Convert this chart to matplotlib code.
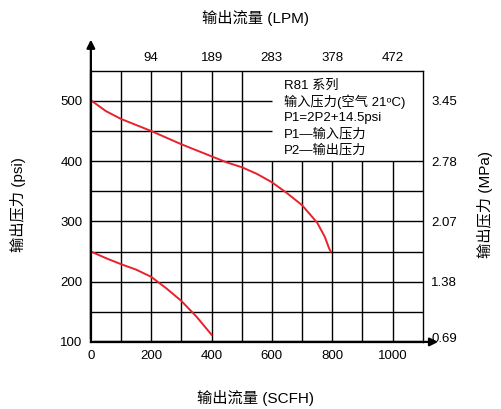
import matplotlib
matplotlib.use("Agg")
import matplotlib.pyplot as plt
import numpy as np

plt.rcParams['font.family'] = ['Liberation Sans', 'Noto Sans CJK SC', 'DejaVu Sans']

# --- data ---
high_flow = [0, 50, 100, 150, 200, 250, 300, 350, 400, 450, 500, 550, 600,
             650, 700, 750, 775, 790, 795]
high_psi = [501, 483, 470, 460, 450, 439, 428, 418, 408, 398, 390, 379, 365,
            347, 327, 298, 275, 255, 250]
low_flow = [0, 50, 100, 150, 200, 250, 300, 350, 400]
low_psi = [250, 239, 229, 220, 208, 189, 168, 142, 112]

psi_ticks = [100, 200, 300, 400, 500]
mpa_labels = ['0.69', '1.38', '2.07', '2.78', '3.45']
scfh_ticks = [0, 200, 400, 600, 800, 1000]
lpm_labels = ['94', '189', '283', '378', '472']

note_lines = ['R81 系列', '输入压力(空气 21ᵒC)', 'P1=2P2+14.5psi', 'P1—输入压力', 'P2—输出压力']

fig = plt.figure(figsize=(5.02, 4.09), dpi=100)
ax = fig.add_axes([0.181, 0.164, 0.661, 0.663])
ax.set_xlim(0, 1100)
ax.set_ylim(100, 550)

# grid, leaving the note box (x>=600, y>=400) empty
for xv in range(100, 1100, 100):
    top = 400 if xv >= 600 else 550
    ax.vlines(xv, 100, top, color='black', lw=1.0)
for yv in range(150, 550, 50):
    right = 600 if yv > 400 else 1100
    ax.hlines(yv, 0, right, color='black', lw=1.0)

ax.plot(high_flow, high_psi, color='#e8212b', lw=1.4, solid_joinstyle='round')
ax.plot(low_flow, low_psi, color='#e8212b', lw=1.4, solid_joinstyle='round')

for sp in ['top', 'right']:
    ax.spines[sp].set_linewidth(1.0)
for sp in ['left', 'bottom']:
    ax.spines[sp].set_linewidth(1.6)

# axis arrows
ax.annotate('', xy=(0, 1.125), xytext=(0, 0), xycoords='axes fraction',
            arrowprops=dict(arrowstyle='-|>', lw=1.6, color='black', mutation_scale=12),
            annotation_clip=False)
ax.annotate('', xy=(1.055, 0), xytext=(0, 0), xycoords='axes fraction',
            arrowprops=dict(arrowstyle='-|>', lw=1.6, color='black', mutation_scale=12),
            annotation_clip=False)

ax.set_xticks(scfh_ticks)
ax.set_yticks(psi_ticks)
ax.tick_params(length=0, labelsize=9.5, pad=6)

sec_top = ax.secondary_xaxis('top', functions=(lambda s: s / 2.119, lambda l: l * 2.119))
sec_top.set_xticks([float(v) for v in lpm_labels], lpm_labels)
sec_top.tick_params(length=0, labelsize=9.5, pad=5)
sec_top.spines['top'].set_visible(False)

right = ax.twinx()
right.set_ylim(ax.get_ylim())
right.set_yticks([107] + psi_ticks[1:], mpa_labels)
right.tick_params(length=0, labelsize=9.5, pad=6)
for sp in right.spines.values():
    sp.set_visible(False)

for i, line in enumerate(note_lines):
    ax.text(640, 525 - i * 26.5, line, fontsize=9.5, va='center', ha='left')

fig.text(0.508, 0.955, '输出流量 (LPM)', ha='center', va='center', fontsize=11)
fig.text(0.508, 0.028, '输出流量 (SCFH)', ha='center', va='center', fontsize=11)
fig.text(0.036, 0.5, '输出压力 (psi)', ha='center', va='center', fontsize=11, rotation=90)
fig.text(0.966, 0.5, '输出压力 (MPa)', ha='center', va='center', fontsize=11, rotation=90)

fig.savefig('out.png', dpi=100)
